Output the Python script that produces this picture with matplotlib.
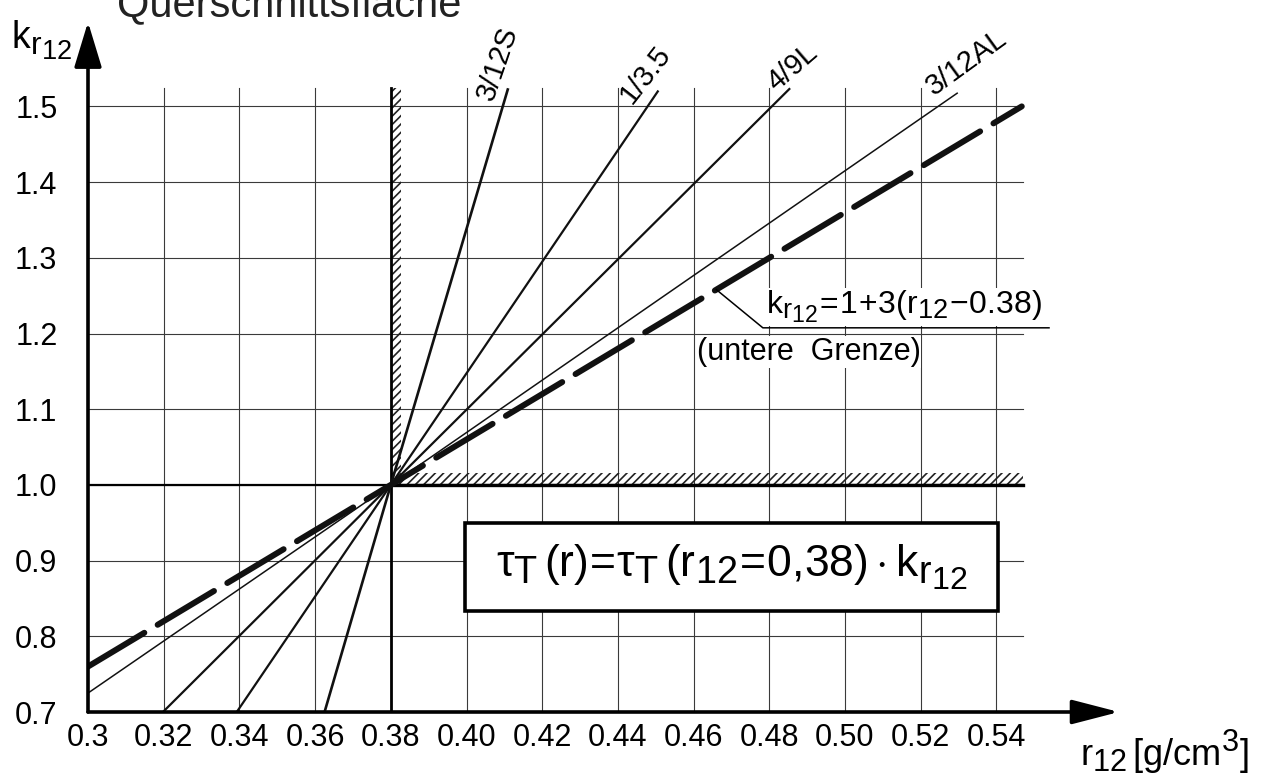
import matplotlib.pyplot as plt
import matplotlib._mathtext as mathtext_internal
from matplotlib.patches import Rectangle

plt.rcParams['font.family'] = ['Liberation Sans', 'DejaVu Sans']
plt.rcParams['mathtext.fontset'] = 'custom'
plt.rcParams['mathtext.rm'] = 'Liberation Sans'
plt.rcParams['mathtext.it'] = 'Liberation Sans'
plt.rcParams['mathtext.sf'] = 'Liberation Sans'
plt.rcParams['hatch.linewidth'] = 1.2
# subscripts in the drawing are hardly smaller than the main text
mathtext_internal.SHRINK_FACTOR = 0.85

# Axis ticks
x_ticks = [0.30, 0.32, 0.34, 0.36, 0.38, 0.40, 0.42, 0.44, 0.46, 0.48, 0.50, 0.52, 0.54]
x_tick_labels = ['0.3', '0.32', '0.34', '0.36', '0.38', '0.40', '0.42', '0.44',
                 '0.46', '0.48', '0.50', '0.52', '0.54']
y_ticks = [0.7, 0.8, 0.9, 1.0, 1.1, 1.2, 1.3, 1.4, 1.5]
y_tick_labels = ['0.7', '0.8', '0.9', '1.0', '1.1', '1.2', '1.3', '1.4', '1.5']

# Straight lines through the common point (0.38, 1.0)
pivot_r = 0.38
pivot_k = 1.0
curve_names = ['3/12S', '1/3.5', '4/9L', '3/12AL']
curve_r_start = [0.3625, 0.3393, 0.3198, 0.300]
curve_k_start = [0.700, 0.700, 0.700, 0.725]
curve_r_end = [0.4110, 0.4507, 0.4855, 0.5298]
curve_k_end = [1.524, 1.521, 1.524, 1.518]

# Lower limit k = 1 + 3 (r - 0.38)
lower_r = [0.300, 0.380, 0.5467]
lower_k = [0.760, 1.000, 1.500]

# grid extents
grid_r_max = 0.547
grid_k_max = 1.524

fig = plt.figure(figsize=(12.64, 7.76), dpi=100)
ax = fig.add_axes([88 / 1264, 64 / 776, 1031 / 1264, 690 / 776])
ax.set_xlim(0.3, 0.3 + 1031 / 3785)
ax.set_ylim(0.7, 0.7 + 690 / 757)
for s in ax.spines.values():
    s.set_visible(False)

ax.set_xticks(x_ticks)
ax.set_xticklabels(x_tick_labels, fontsize=22)
ax.set_yticks(y_ticks)
ax.set_yticklabels(y_tick_labels, fontsize=22)
ax.tick_params(length=0)
ax.tick_params(axis='x', pad=8)
ax.tick_params(axis='y', pad=22)

# grid
grid_col = '#3a3a3a'
for r in x_ticks[1:]:
    ax.plot([r, r], [0.7, grid_k_max], color=grid_col, lw=0.8, zorder=1)
for k in y_ticks[1:]:
    ax.plot([0.3, grid_r_max], [k, k], color=grid_col, lw=0.8, zorder=1)

# boundaries with hatching
ax.plot([pivot_r, pivot_r], [0.7, grid_k_max], color='black', lw=2.0, zorder=3)
ax.plot([0.3, grid_r_max], [pivot_k, pivot_k], color='black', lw=1.6, zorder=3)
ax.plot([pivot_r, grid_r_max], [pivot_k, pivot_k], color='black', lw=2.4, zorder=3)
ax.add_patch(Rectangle((pivot_r, pivot_k), 0.0027, grid_k_max - pivot_k, fill=False,
                       hatch='////', edgecolor='#222222', lw=0, zorder=2))
ax.add_patch(Rectangle((pivot_r, pivot_k), grid_r_max - pivot_r, 0.016, fill=False,
                       hatch='////', edgecolor='#222222', lw=0, zorder=2))

# material lines
line_widths = [1.9, 1.6, 1.6, 1.1]
label_pos = [(0.4083, 1.557), (0.4472, 1.5415), (0.4860, 1.552), (0.5320, 1.5587)]
label_rot = [71, 52, 41, 36]
for i, name in enumerate(curve_names):
    ax.plot([curve_r_start[i], pivot_r, curve_r_end[i]],
            [curve_k_start[i], pivot_k, curve_k_end[i]],
            color='#111111', lw=line_widths[i], zorder=4, solid_capstyle='butt')
    ax.text(label_pos[i][0], label_pos[i][1], name, fontsize=21, rotation=label_rot[i],
            rotation_mode='anchor', ha='center', va='center', zorder=6)

# lower limit (dashed)
ax.plot(lower_r, lower_k, color='#111111', lw=4.3, linestyle=(0, (11, 2.6)),
        dash_capstyle='round', zorder=5)

# annotation for lower limit
ax.text(0.4792, 1.226, r'$\mathrm{k_{r_{12}}\!=\!1\!+\!3(r_{12}\!-\!0.38)}$', fontsize=23,
        ha='left', va='baseline', zorder=6,
        bbox=dict(facecolor='white', edgecolor='none', pad=0.5))
ax.text(0.4609, 1.1756, '(untere  Grenze)', fontsize=22, ha='left', va='center', zorder=6,
        bbox=dict(facecolor='white', edgecolor='none', pad=0.5))
ax.plot([0.466, 0.4783, 0.5539], [1.258, 1.2075, 1.2075], color='black', lw=1.1,
        zorder=7, clip_on=False)

# formula box
ax.add_patch(Rectangle((0.3996, 0.8334), 0.1408, 0.1166, facecolor='white',
                       edgecolor='black', lw=2.6, zorder=7))
ax.text(0.4700, 0.8905,
        r'$\tau_{\mathrm{T}}\,\mathrm{(r)\!=\!}\tau_{\mathrm{T}}\,\mathrm{(r_{12}\!=\!0{,}38)\cdot k_{r_{12}}}$',
        fontsize=32, ha='center', va='center', zorder=8)

# axis arrows
ax.annotate('', xy=(0.3 + 1031 / 3785, 0.7), xytext=(0.3, 0.7),
            arrowprops=dict(arrowstyle='-|>,head_length=29,head_width=7.5', mutation_scale=1,
                            lw=2.6, color='black', shrinkA=0, shrinkB=0),
            annotation_clip=False, zorder=9)
ax.annotate('', xy=(0.3, 0.7 + 690 / 757), xytext=(0.3, 0.7),
            arrowprops=dict(arrowstyle='-|>,head_length=28,head_width=8.5', mutation_scale=1,
                            lw=2.6, color='black', shrinkA=0, shrinkB=0),
            annotation_clip=False, zorder=9)

# axis labels and title
fig.text(11 / 1264, 1 - 40 / 776, r'$\mathrm{k_{r_{12}}}$', fontsize=27, ha='left', va='center')
fig.text(1080 / 1264, 1 - 752 / 776, r'$\mathrm{r_{12}\,[g/cm^{3}]}$', fontsize=26,
         ha='left', va='center')
fig.text(117 / 1264, 1 - 16 / 776, 'Querschnittsfläche', fontsize=30, ha='left',
         va='baseline', color='#222222')

fig.savefig('out.png', dpi=100, facecolor='white')
